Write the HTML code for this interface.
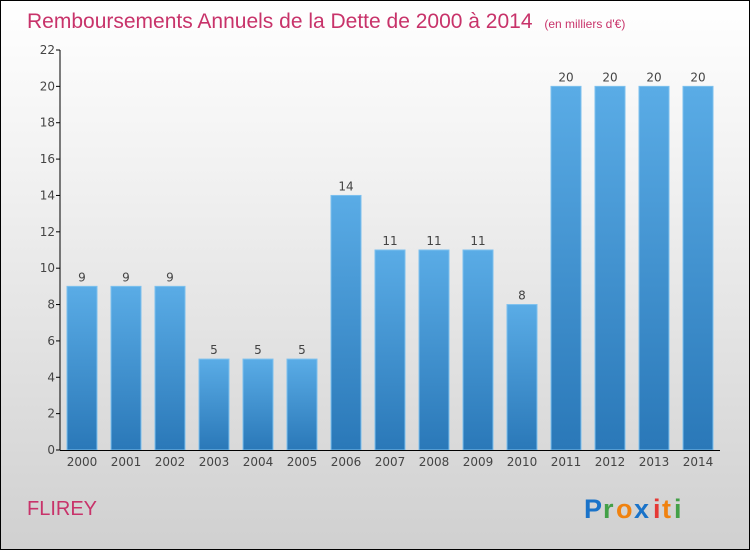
<!DOCTYPE html>
<html><head><meta charset="utf-8"><style>
body{margin:0}
#c{width:748px;height:548px;border:1px solid #000;position:relative;background:linear-gradient(#ffffff,#f2f2f2 30%,#d0d0d0);font-family:"DejaVu Sans","Liberation Sans",sans-serif;overflow:hidden}
</style></head><body>
<div id="c">
<svg width="748" height="548" id="s">
<text x="26" y="27" font-size="21" fill="#c8336a" font-family="Liberation Sans,sans-serif">Remboursements Annuels de la Dette de 2000 à 2014 <tspan font-size="12" dx="6">(en milliers d'€)</tspan></text>
<text x="26" y="514" font-size="20" fill="#c8336a" font-family="Liberation Sans,sans-serif">FLIREY</text>
<g font-family="Liberation Sans,sans-serif" font-size="27" font-weight="bold">
<text x="583" y="517" fill="#1a73c9">P</text><text x="602" y="517" fill="#43a047">r</text><text x="615" y="517" fill="#f0820f">o</text><text x="633" y="517" fill="#1a73c9">x</text><text x="652" y="517" fill="#e53935">i</text><text x="661" y="517" fill="#f0820f">t</text><text x="673" y="517" fill="#43a047">i</text>
</g>
</svg>
</div>
<script>
const years=["2000","2001","2002","2003","2004","2005","2006","2007","2008","2009","2010","2011","2012","2013","2014"];
const values=[9,9,9,5,5,5,14,11,11,11,8,20,20,20,20];
const yTicks=[0,2,4,6,8,10,12,14,16,18,20,22];
const s=document.getElementById('s');
const NS="http://www.w3.org/2000/svg";
const x0=59,x1=719,y0=449,y1=49,ymax=22;
const band=(x1-x0)/years.length;
const ys=v=>y0-(v/ymax)*(y0-y1);
function mk(t,a){const e=document.createElementNS(NS,t);for(const k in a)e.setAttribute(k,a[k]);s.appendChild(e);return e;}
const defs=mk('defs',{});
defs.innerHTML='<linearGradient id="g" x1="0" y1="0" x2="0" y2="1"><stop offset="0" stop-color="#5aace6"/><stop offset="1" stop-color="#2a78b8"/></linearGradient>';
years.forEach((yr,i)=>{
  const cx=x0+band*(i+0.5);
  const r=mk('rect',{x:cx-15,y:ys(values[i]),width:30,height:y0-ys(values[i]),fill:'url(#g)',stroke:'#7cc0ee','stroke-width':1});
  
  
  const t=mk('text',{x:cx,y:ys(values[i])-5,'text-anchor':'middle','font-size':12,fill:'#444'});
  t.textContent=values[i];
  
  
  const l=mk('text',{x:cx,y:y0+16,'text-anchor':'middle','font-size':12,fill:'#444'});
  l.textContent=yr;
  
  
});
yTicks.forEach(v=>{
  const y=ys(v);
  const tk=mk('line',{x1:x0-4,x2:x0,y1:y,y2:y,stroke:'#000'});
  
  
  const t=mk('text',{x:x0-5,y:y+4,'text-anchor':'end','font-size':12,fill:'#444'});
  t.textContent=v;
  
  
});
const ya=mk('line',{x1:x0,x2:x0,y1:y1,y2:y0,stroke:'#000'});


const xa=mk('line',{x1:x0,x2:x1,y1:y0+0.5,y2:y0+0.5,stroke:'#000'});


</script>
</body></html>
